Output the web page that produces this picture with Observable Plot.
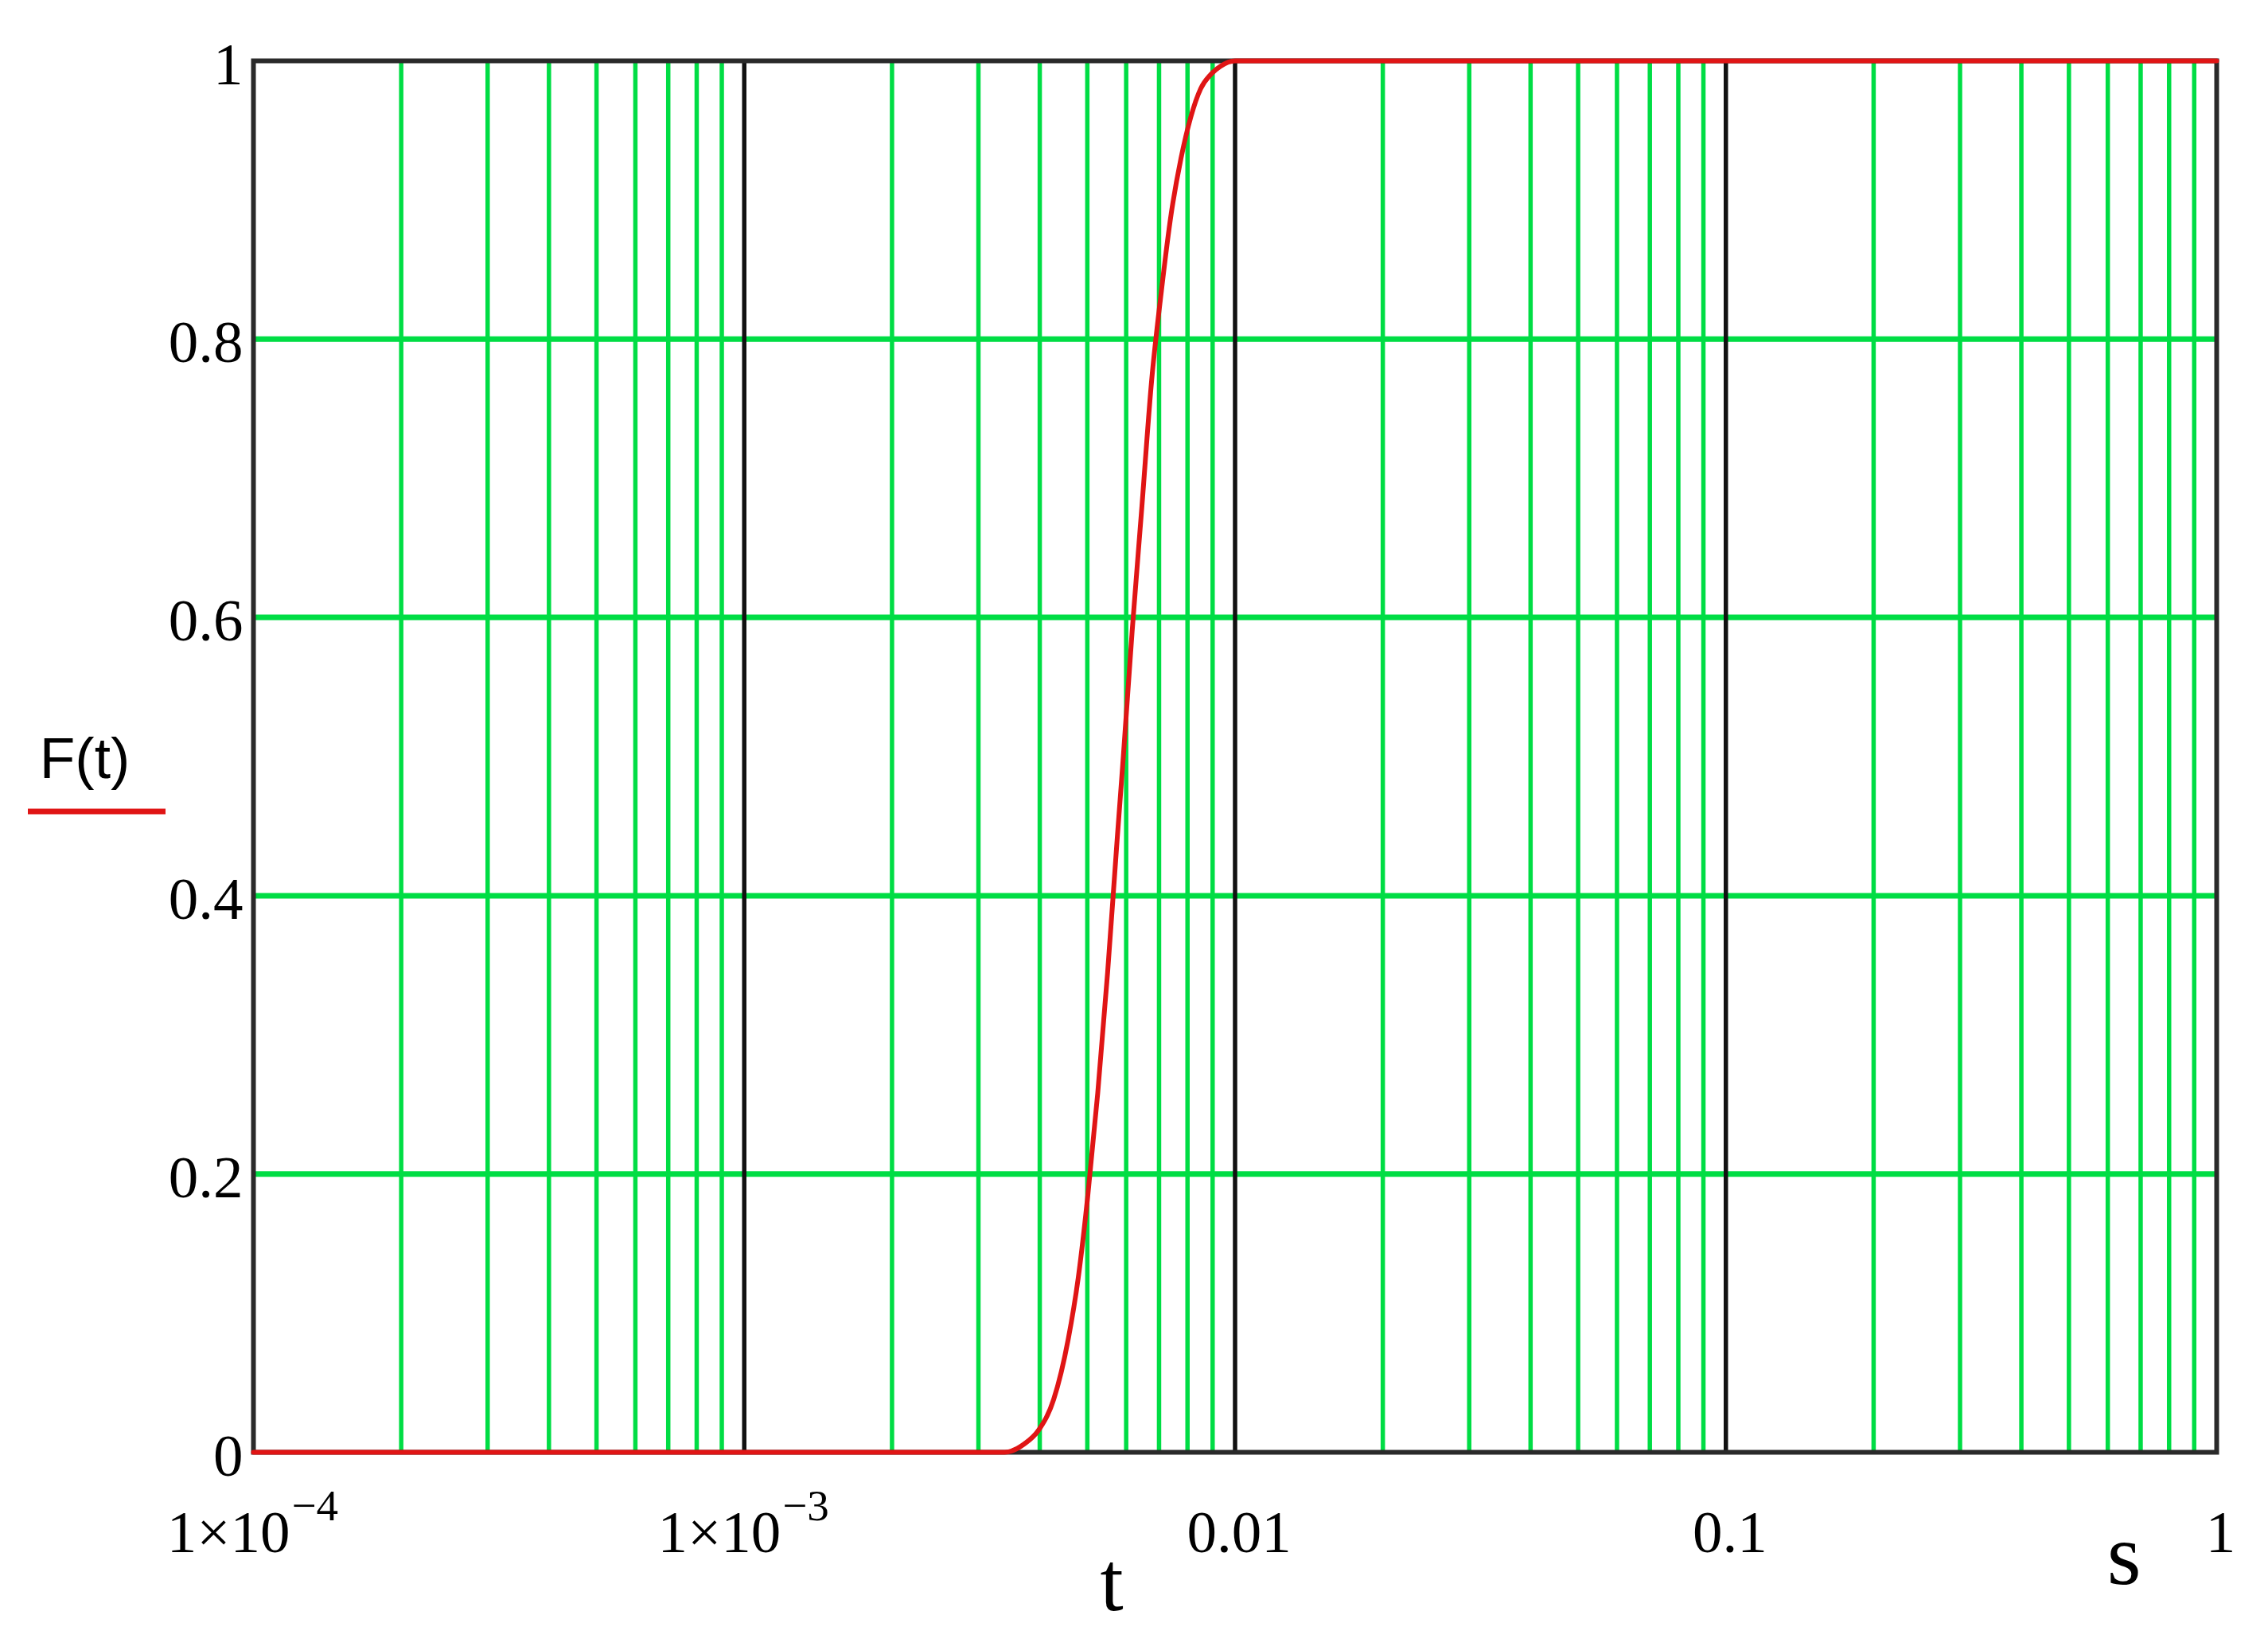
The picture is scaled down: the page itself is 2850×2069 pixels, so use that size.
<!DOCTYPE html>
<html>
<head>
<meta charset="utf-8">
<script src="https://cdn.jsdelivr.net/npm/d3@7"></script>
<script src="https://cdn.jsdelivr.net/npm/@observablehq/plot@0.6"></script>
<style>
  html, body { margin: 0; padding: 0; background: #ffffff; }
</style>
</head>
<body>
<div id="chart"></div>
<script>
// ---- data ----
const tValues = [1e-4, 3.39e-3, 3.72e-3, 3.98e-3, 4.27e-3, 4.57e-3, 4.79e-3, 5.01e-3, 5.25e-3, 5.50e-3, 5.75e-3, 5.92e-3, 6.17e-3, 6.46e-3, 6.76e-3, 7.08e-3, 7.41e-3, 7.76e-3, 8.13e-3, 8.51e-3, 8.91e-3, 9.33e-3, 1.0e-2, 1];
const fValues = [0, 0, 0.006, 0.016, 0.038, 0.081, 0.125, 0.184, 0.258, 0.345, 0.440, 0.500, 0.590, 0.680, 0.770, 0.835, 0.890, 0.930, 0.960, 0.980, 0.990, 0.996, 1, 1];

const yTicks = [0, 0.2, 0.4, 0.6, 0.8, 1];
const yTickLabels = ["0", "0.2", "0.4", "0.6", "0.8", "1"];

const decadeLines = [1e-3, 1e-2, 1e-1];
const decadeStarts = [1e-4, 1e-3, 1e-2, 1e-1];
const minorMultipliers = [2, 3, 4, 5, 6, 7, 8, 9];
const hGrid = [0.2, 0.4, 0.6, 0.8];

const sciTicks = [1e-4, 1e-3];
const sciMain = ["1×10", "1×10"];
const sciExp = ["−4", "−3"];
const plainTicks = [0.01, 0.1, 1];
const plainLabels = ["0.01", "0.1", "1"];

const yLabel = "F(t)";
const xLabel = "t";
const unitLabel = "s";

// ---- build ----
const curve = tValues.map((t, i) => ({t, F: fValues[i]}));
const minorLines = decadeStarts.flatMap(d => minorMultipliers.map(m => +(d * m).toPrecision(3)));
const yLabelMap = new Map(yTicks.map((d, i) => [d, yTickLabels[i]]));
const plainMap = new Map(plainTicks.map((d, i) => [d, plainLabels[i]]));

const GREEN = "#00dd44";
const RED = "#e01515";
const serif = "'Liberation Serif', 'Times New Roman', serif";
const sans = "'Liberation Sans', Arial, sans-serif";

const legendKey = (index, scales, values, dim) => {
  const g = d3.create("svg:g");
  g.append("line")
    .attr("x1", dim.marginLeft - 283).attr("x2", dim.marginLeft - 110)
    .attr("y1", dim.marginTop + 944).attr("y2", dim.marginTop + 944)
    .attr("stroke", RED).attr("stroke-width", 7);
  return g.node();
};

const chart = Plot.plot({
  width: 2850,
  height: 2069,
  marginLeft: 318,
  marginRight: 65,
  marginTop: 76,
  marginBottom: 244,
  x: {type: "log", domain: [1e-4, 1], axis: null},
  y: {domain: [0, 1], axis: null},
  style: {fontFamily: serif, background: "#ffffff", color: "#000000", overflow: "visible"},
  marks: [
    Plot.ruleX(minorLines, {stroke: GREEN, strokeWidth: 5.5}),
    Plot.ruleY(hGrid, {stroke: GREEN, strokeWidth: 7}),
    Plot.ruleX(decadeLines, {stroke: "#111111", strokeWidth: 5.5}),
    Plot.frame({stroke: "#2a2a2a", strokeWidth: 6}),
    Plot.line(curve, {x: "t", y: "F", stroke: RED, strokeWidth: 6, curve: "monotone-x"}),
    Plot.axisY(yTicks, {tickSize: 0, tickPadding: 13, tickFormat: d => yLabelMap.get(d), fontSize: 75, dy: 5, label: null, fontFamily: serif}),
    Plot.axisX(plainTicks, {tickSize: 0, tickPadding: 72, tickFormat: d => plainMap.get(d), fontSize: 75, dx: 5, label: null, fontFamily: serif}),
    Plot.text(sciTicks, {x: d => d, text: (d, i) => sciMain[i], frameAnchor: "bottom", textAnchor: "end", lineAnchor: "bottom", dx: 46, dy: 125, fontSize: 75, fontFamily: serif}),
    Plot.text(sciTicks, {x: d => d, text: (d, i) => sciExp[i], frameAnchor: "bottom", textAnchor: "start", lineAnchor: "bottom", dx: 48, dy: 85, fontSize: 55, fontFamily: serif}),
    Plot.text([xLabel], {text: d => d, frameAnchor: "bottom", lineAnchor: "bottom", dx: -155, dy: 198, fontSize: 105, fontFamily: serif}),
    Plot.text([unitLabel], {text: d => d, frameAnchor: "bottom-right", lineAnchor: "bottom", dx: -95, dy: 165, fontSize: 110, fontFamily: serif}),
    Plot.text([yLabel], {text: d => d, frameAnchor: "left", textAnchor: "middle", lineAnchor: "bottom", dx: -212, dy: 27, fontSize: 73, fontFamily: sans}),
    legendKey
  ]
});
document.getElementById("chart").appendChild(chart);
</script>
</body>
</html>
